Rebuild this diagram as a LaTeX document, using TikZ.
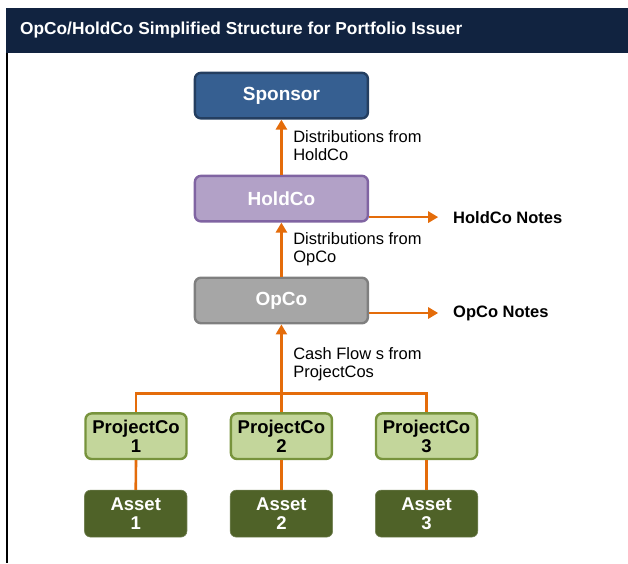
\documentclass[tikz,border=0pt]{standalone}
\usepackage{fontspec}
\setmainfont{Liberation Sans}
\usetikzlibrary{arrows.meta, positioning}
\definecolor{navy}{RGB}{17,35,64}
\definecolor{flowor}{RGB}{228,108,10}
\definecolor{sponfill}{RGB}{54,95,145}
\definecolor{sponline}{RGB}{36,62,96}
\definecolor{holdfill}{RGB}{178,161,199}
\definecolor{holdline}{RGB}{128,100,162}
\definecolor{opfill}{RGB}{166,166,166}
\definecolor{opline}{RGB}{127,127,127}
\definecolor{pcfill}{RGB}{195,214,155}
\definecolor{pcline}{RGB}{119,147,60}
\definecolor{assetfill}{RGB}{79,98,40}
\tikzset{
    entity/.style={
        rectangle, rounded corners=6pt, line width=2.4pt,
        minimum width=6.08cm, minimum height=1.6cm,
        text=white, font=\bfseries\fontsize{19}{21}\selectfont
    },
    project/.style={
        rectangle, rounded corners=6pt, line width=2.4pt,
        draw=pcline, fill=pcfill,
        minimum width=3.55cm, minimum height=1.6cm, inner sep=1pt,
        align=center, font=\bfseries\fontsize{18.5}{19}\selectfont
    },
    asset/.style={
        rectangle, rounded corners=6pt, draw=assetfill!80!white, line width=0.6pt,
        fill=assetfill, text=white,
        minimum width=3.6cm, minimum height=1.65cm, inner sep=1pt,
        align=center, font=\bfseries\fontsize{18.5}{19}\selectfont
    },
    flow/.style={draw=flowor, line width=2.6pt, -{Triangle[length=10pt,width=11pt]}},
    link/.style={draw=flowor, line width=2.6pt},
    flowlabel/.style={anchor=west, align=left, inner sep=0pt,
        font=\fontsize{16.5}{18}\selectfont},
    notes/.style={anchor=west, inner sep=0pt, font=\bfseries\fontsize{16.5}{18}\selectfont}
}

\begin{document}
\begin{tikzpicture}
\useasboundingbox (0,0) rectangle (22.07,19.79);

% Header bar
\fill[navy] (0.21,17.92) rectangle (22.07,19.51);
\node[anchor=west, inner sep=0pt, text=white, font=\bfseries\fontsize{17.3}{18}\selectfont] (title) at (0.70,18.72)
    {OpCo/HoldCo Simplified Structure for Portfolio Issuer};
\draw[black, line width=1.6pt] (0.25,17.92) -- (0.25,0);

% Main column
\node[entity, draw=sponline, fill=sponfill] (sponsor) at (9.89,16.43) {Sponsor};
\node[entity, draw=holdline, fill=holdfill] (holdco) at (9.89,12.81) {HoldCo};
\node[entity, draw=opline, fill=opfill] (opco) at (9.89,9.23) {OpCo};

% ProjectCos and assets
\node[project] (pc1) at (4.78,4.46) {ProjectCo\\1};
\node[project] (pc2) at (9.89,4.46) {ProjectCo\\2};
\node[project] (pc3) at (14.99,4.46) {ProjectCo\\3};
\node[asset] (asset1) at (4.77,1.74) {Asset\\1};
\node[asset] (asset2) at (9.89,1.74) {Asset\\2};
\node[asset] (asset3) at (14.99,1.74) {Asset\\3};

% Notes
\node[notes] (hnotes) at (15.92,12.16) {HoldCo Notes};
\node[notes] (onotes) at (15.92,8.79) {OpCo Notes};

% Flow labels
\node[flowlabel] (lbl1) at (10.30,14.66) {Distributions from\\HoldCo};
\node[flowlabel] (lbl2) at (10.30,11.04) {Distributions from\\OpCo};
\node[flowlabel] (lbl3) at (10.30,6.99) {Cash Flow s from\\ProjectCos};

% Connections
\coordinate (bus) at (9.89,5.97);
\draw[link] (pc1.north) |- (bus) -| (pc3.north);
\draw[flow] (pc2.north) -- (opco.south);
\draw[flow] (opco.north) -- (holdco.south);
\draw[flow] (holdco.north) -- (sponsor.south);
\draw[flow] (holdco.east |- hnotes) -- ([xshift=-0.52cm]hnotes.west);
\draw[flow] (opco.east |- onotes) -- ([xshift=-0.52cm]onotes.west);
\draw[link] (pc1.south) -- (asset1.north);
\draw[link] (pc2.south) -- (asset2.north);
\draw[link] (pc3.south) -- (asset3.north);

\end{tikzpicture}
\end{document}
